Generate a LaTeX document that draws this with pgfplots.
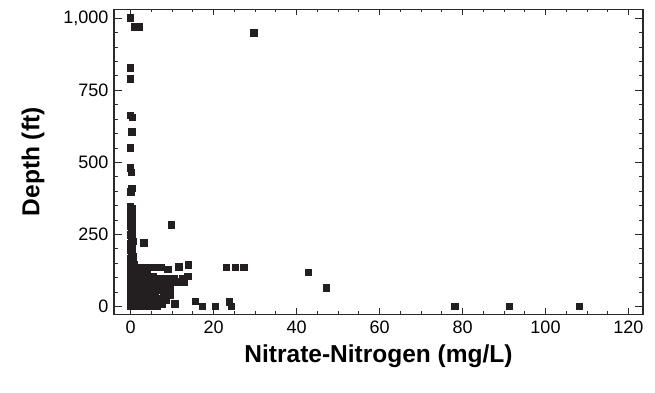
\documentclass[border=0pt]{standalone}
\usepackage{pgfplots}
\pgfplotsset{compat=1.18}
\usepackage{fontspec}
\setmainfont{Liberation Sans}
\definecolor{mk}{HTML}{231F20}
\definecolor{ax}{HTML}{2A2A2A}
\begin{document}
\begin{tikzpicture}
\path[use as bounding box] (-114pt,-78pt) rectangle (541pt,314.3pt);
\begin{axis}[
  scale only axis,
  width=529pt, height=305pt,
  xmin=-4, xmax=123.5,
  ymin=-27, ymax=1031,
  xtick={0,20,...,120},
  ytick={0,250,500,750,1000},
  minor x tick num=3,
  minor y tick num=4,
  tick align=inside,
  xtick pos=both, ytick pos=both,
  axis line style={ax, line width=1.1pt},
  every tick/.style={ax, line width=0.9pt},
  major tick length=8pt,
  minor tick length=4.5pt,
  xtick style={/pgfplots/major tick length=6pt,/pgfplots/minor tick length=3pt},
  /pgf/number format/assume math mode=true,
  tick label style={font=\fontsize{18}{20}\selectfont, text=black},
  x tick label style={yshift=-3pt},
  y tick label style={/pgf/number format/1000 sep={,}, xshift=-2pt},
  xlabel={Nitrate-Nitrogen (mg/L)},
  ylabel={Depth (ft)},
  label style={font=\fontsize{24.5}{28}\selectfont\bfseries, text=black},
  x label style={at={(axis description cs:0.5,-0.138)}, anchor=center},
  y label style={at={(axis description cs:-0.153,0.5)}, anchor=center},
]
\addplot[only marks, mark=square*, mark size=3.3pt, mk, mark options={draw=mk, fill=mk, line width=0pt}] coordinates {
(0,1000) (1,970) (2,970) (29.8,948)
(0,827) (0,790) (0,662) (0.5,655) (0.3,605) (0,550)
(0,481) (0.2,465) (0.3,410) (0.1,398)
(0,346) (0.3,338) (0,330) (0.2,322) (0.4,315) (0,308) (0.3,300) (0.1,292)
(0.5,285) (0,278) (0.3,270) (0.2,262) (0.5,255) (0,248) (0.4,240) (0.2,232)
(0.6,225) (0,218) (0.3,210) (0.5,202) (0.1,195) (0.4,188) (0.2,180) (0.6,172)
(0,165) (0.3,158) (0.5,150) (0.8,145) (0.1,142)
(9.9,282) (3.3,221)
(7.3,135) (9,128) (11.6,137) (14,143) (23.1,135) (25.3,135) (27.3,135)
(42.9,118) (47.2,65) (78.2,0) (91.3,0) (108.2,0)
(13.9,104) (10.7,8) (15.6,17) (17.3,0) (20.5,0) (23.8,15) (24.3,0) (8.7,22)
(0,0) (0.8,0) (1.6,0) (2.4,0) (3.2,0) (4,0) (5,0) (6.3,0)
(0.4,8) (1.2,8) (2,8) (3,8) (4.5,8) (5.5,8) (6.5,8) (7.5,8)
(0,18) (1,18) (2,18) (3.5,18) (5,18) (6,18) (7.5,18)
(0.5,28) (1.5,28) (2.5,28) (4,28) (5.5,28) (7,28) (8.5,28)
(0,38) (1,38) (2,38) (3,38) (4.5,38) (6,38) (8,38) (9.5,38)
(0.5,48) (1.5,48) (3,48) (4,48) (5.5,48) (8.5,48)
(0,58) (1,58) (2,58) (3.5,58) (5,58) (6.5,58) (8,58) (9.6,58)
(0.5,68) (1.5,68) (2.5,68) (4,68) (6,68) (9,68)
(0,78) (1,78) (2,78) (3,78) (4.5,78) (7.5,78)
(0.5,86) (1.5,86) (2.5,86) (3.5,86) (5,86) (6.5,86) (8,86) (9,86) (10,86) (11,86) (12,86) (13,86)
(0,95) (1,95) (2,95) (3,95) (4.5,95) (6,95) (7.5,95) (9,95) (10.5,95) (12.5,95)
(0.5,103) (1.5,103) (2.5,103) (4,103) (5.5,103)
(0,113) (1,113) (2,113) (3,113)
(0.5,122) (1.5,122) (2.5,122)
(0,130) (1,130) (2,130) (3,130) (4,130)
(2.2,135) (3,135) (4,135) (5,135) (6,135)
(0.3,143) (0.8,143)
};
\end{axis}
\end{tikzpicture}
\end{document}
